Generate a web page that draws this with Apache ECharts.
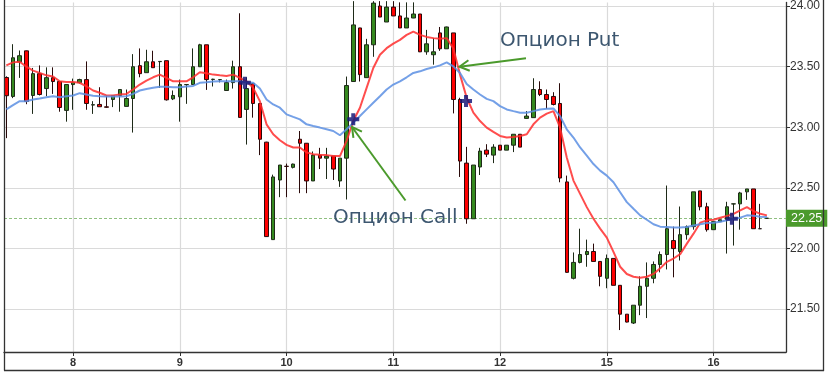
<!DOCTYPE html>
<html>
<head>
<meta charset="utf-8">
<script src="https://cdn.jsdelivr.net/npm/echarts@6/dist/echarts.min.js"></script>
<style>
html,body{margin:0;padding:0;background:#fff;}
#chart{width:828px;height:380px;}
</style>
</head>
<body>
<div id="chart"></div>
<script>
// ---- data (candle index along x) ----
const dayLabels = ['8','9','10','11','12','15','16'];
const dayTickIndex = [10,26,42,58,74,90,106];
const yTicks = [21.5,22.0,22.5,23.0,23.5,24.0];

const opens = [23.41,23.254,23.54,23.63,23.262,23.442,23.319,23.409,23.377,23.139,
23.352,23.368,23.393,23.183,23.188,23.168,23.229,23.262,23.172,23.237,
23.508,23.45,23.54,23.541,23.549,23.234,23.251,23.351,23.352,23.499,
23.68,23.394,23.392,23.303,23.368,23.499,23.147,23.36,23.196,22.877,
22.073,22.565,22.678,22.669,22.901,22.868,22.557,22.77,22.745,22.762,
22.557,22.745,23.377,23.819,23.409,23.68,24.0,23.868,23.991,23.918,
23.819,23.901,23.934,23.622,23.598,23.778,23.647,23.778,23.229,22.704,
22.245,22.672,22.811,22.77,22.852,22.811,22.852,22.942,23.073,23.079,
23.311,23.27,23.254,23.196,22.549,21.754,21.885,21.95,21.975,21.893,
21.754,21.918,21.696,21.458,21.385,21.532,21.688,21.754,21.868,21.95,
22.065,21.975,22.114,22.18,22.475,22.344,22.155,22.221,22.237,22.367,
22.368,22.467,22.491,22.163,22.248];
const closes = [23.26,23.573,23.59,23.213,23.442,23.27,23.409,23.377,23.163,23.352,
23.368,23.393,23.196,23.186,23.169,23.165,23.262,23.311,23.237,23.499,
23.442,23.54,23.491,23.543,23.226,23.262,23.352,23.352,23.499,23.68,
23.393,23.396,23.393,23.368,23.499,23.081,23.319,23.196,22.901,22.098,
22.59,22.688,22.677,22.696,22.868,22.557,22.77,22.745,22.762,22.655,
22.745,23.344,23.844,23.434,23.68,24.024,23.909,23.991,23.918,23.819,
23.901,23.934,23.622,23.688,23.622,23.647,23.827,23.229,22.721,22.245,
22.688,22.803,22.778,22.836,22.811,22.852,22.942,22.836,23.092,23.311,
23.27,23.229,23.188,22.581,21.803,21.885,21.95,21.975,21.893,21.77,
21.918,21.696,21.458,21.393,21.532,21.688,21.754,21.868,21.95,22.163,
21.999,22.114,22.18,22.467,22.344,22.155,22.221,22.237,22.344,22.368,
22.458,22.491,22.163,22.163,22.25];
const lows = [22.91,23.24,23.407,23.19,23.11,23.262,23.256,23.275,23.128,23.046,
23.144,23.36,23.144,23.11,23.169,23.16,23.166,23.128,23.172,22.956,
23.412,23.45,23.491,23.325,23.22,23.224,23.046,23.193,23.352,23.499,
23.308,23.336,23.37,23.303,23.319,23.08,22.857,23.079,22.77,22.095,
22.07,22.423,22.423,22.66,22.456,22.456,22.557,22.655,22.573,22.565,
22.508,22.404,23.377,23.377,23.409,23.581,23.909,23.868,23.918,23.819,
23.819,23.90,23.62,23.598,23.516,23.63,23.647,23.114,22.59,22.204,
22.245,22.606,22.754,22.704,22.811,22.811,22.795,22.836,23.07,23.079,
23.257,23.152,23.18,22.546,21.80,21.745,21.877,21.849,21.893,21.688,
21.672,21.696,21.327,21.39,21.377,21.45,21.426,21.713,21.803,21.827,
21.762,21.901,22.073,22.155,22.314,22.139,22.155,22.221,21.958,22.024,
22.155,22.401,22.163,22.16,22.245];
const highs = [23.42,23.685,23.633,23.632,23.489,23.51,23.494,23.494,23.38,23.352,
23.401,23.40,23.543,23.215,23.33,23.262,23.262,23.311,23.311,23.603,
23.65,23.639,23.631,23.545,23.549,23.303,23.393,23.355,23.65,23.688,
23.68,23.40,23.393,23.393,23.549,23.94,23.412,23.36,23.196,22.88,
22.609,22.688,22.70,22.70,22.969,22.87,22.80,22.83,22.83,22.762,
22.745,23.418,24.04,23.82,23.729,24.04,24.04,24.04,24.04,24.03,
24.03,24.03,23.934,23.803,23.737,23.827,23.83,23.778,23.243,22.838,
22.688,22.83,22.86,22.86,22.852,22.852,22.942,22.942,23.133,23.404,
23.379,23.311,23.289,23.363,22.601,21.967,22.163,22.073,22.04,21.893,
21.95,21.918,21.696,21.458,21.532,21.77,21.885,21.893,21.975,22.519,
22.18,22.346,22.19,22.467,22.475,22.377,22.221,22.237,22.385,22.37,
22.467,22.491,22.491,22.368,22.25];

const maFast = [23.51,23.535,23.54,23.50,23.467,23.448,23.428,23.418,23.379,23.374,
23.374,23.366,23.338,23.303,23.284,23.262,23.262,23.27,23.275,23.311,
23.352,23.385,23.412,23.434,23.407,23.379,23.379,23.379,23.412,23.453,
23.445,23.434,23.428,23.423,23.434,23.407,23.379,23.325,23.215,23.024,
22.942,22.893,22.855,22.833,22.833,22.792,22.778,22.773,22.77,22.762,
22.762,22.888,23.051,23.161,23.325,23.489,23.598,23.652,23.69,23.721,
23.762,23.789,23.762,23.745,23.735,23.729,23.735,23.65,23.434,23.243,
23.12,23.051,22.997,22.961,22.928,22.915,22.92,22.928,22.942,23.024,
23.079,23.112,23.133,22.997,22.751,22.56,22.45,22.341,22.245,22.164,
22.09,21.972,21.849,21.789,21.767,21.759,21.767,21.79,21.836,21.89,
21.917,21.953,22.04,22.122,22.213,22.232,22.237,22.254,22.267,22.286,
22.314,22.341,22.308,22.286,22.273];
const maSlow = [23.147,23.183,23.215,23.215,23.229,23.237,23.248,23.256,23.248,23.256,
23.262,23.281,23.27,23.259,23.256,23.254,23.254,23.254,23.256,23.275,
23.303,23.316,23.325,23.333,23.333,23.33,23.33,23.336,23.341,23.366,
23.371,23.377,23.379,23.379,23.379,23.379,23.368,23.366,23.319,23.229,
23.188,23.161,23.106,23.085,23.065,23.024,23.01,22.997,22.983,22.969,
22.934,22.983,23.038,23.092,23.147,23.202,23.256,23.311,23.352,23.379,
23.412,23.448,23.461,23.48,23.494,23.51,23.535,23.502,23.448,23.357,
23.311,23.27,23.234,23.215,23.174,23.147,23.133,23.12,23.12,23.133,
23.147,23.153,23.155,23.092,22.983,22.915,22.833,22.765,22.696,22.642,
22.601,22.546,22.464,22.382,22.327,22.273,22.237,22.2,22.18,22.177,
22.172,22.172,22.177,22.19,22.199,22.21,22.213,22.221,22.232,22.243,
22.254,22.273,22.27,22.262,22.259];

const signalPoints = [[35.75,23.366],[52.0,23.066],[68.9,23.216],[108.75,22.246]];
const callText = 'Опцион Call';
const putText = 'Опцион Put';

// ---- build ----
const candleData = opens.map((o,i)=>[i,o,closes[i],lows[i],highs[i]]);
const fastData = maFast.map((v,i)=>[i,v]);
const slowData = maSlow.map((v,i)=>[i,v]);
const lastClose = closes[closes.length-1];

const chart = echarts.init(document.getElementById('chart'), null, {renderer:'canvas'});
const fontAx = '"Liberation Sans", Arial, sans-serif';
const green = '#4b9a2c';

function arrow(x1,y1,x2,y2){
  const ang = Math.atan2(y2-y1, x2-x1);
  const L = 11, a = 0.5;
  const p1 = [x2 - L*Math.cos(ang-a), y2 - L*Math.sin(ang-a)];
  const p2 = [x2 - L*Math.cos(ang+a), y2 - L*Math.sin(ang+a)];
  return [
    {type:'line', shape:{x1,y1,x2,y2}, style:{stroke:green, lineWidth:2}, z:100},
    {type:'polyline', shape:{points:[p1,[x2,y2],p2]}, style:{stroke:green, lineWidth:2, fill:null}, z:100}
  ];
}

const option = {
  backgroundColor:'#fff',
  animation:false,
  grid:{left:4, right:42, top:0, bottom:28},
  xAxis:{
    type:'value', min:-0.35, max:116.86,
    axisLine:{show:true, onZero:false, lineStyle:{color:'#333', width:1.3}},
    axisTick:{show:true, customValues:dayTickIndex, length:4, lineStyle:{color:'#333'}},
    axisLabel:{customValues:dayTickIndex, formatter:v=>{const k=dayTickIndex.indexOf(Math.round(v));return k>=0?dayLabels[k]:'';},
      fontFamily:fontAx, fontSize:11, fontWeight:'bold', color:'#333', margin:5},
    splitLine:{show:true, lineStyle:{color:'#dadada', width:1.2}}
  },
  yAxis:{
    type:'value', position:'right', min:21.146, max:24.029,
    axisLine:{show:true, onZero:false, lineStyle:{color:'#333', width:1.3}},
    axisTick:{show:true, customValues:yTicks, length:4, lineStyle:{color:'#333'}},
    axisLabel:{customValues:yTicks, formatter:v=>v.toFixed(2), fontFamily:fontAx, fontSize:12, color:'#333', margin:4},
    splitLine:{show:true, lineStyle:{color:'#dadada', width:1.2}}
  },
  series:[
    {
      type:'candlestick', name:'price',
      dimensions:['idx','open','close','lowest','highest'],
      encode:{x:'idx', y:['open','close','lowest','highest']},
      data:candleData, barWidth:4,
      itemStyle:{color:'#35891f', color0:'#ff0000', borderColor:'#1e2a18', borderColor0:'#2a0a0a', borderColorDoji:'#2a2020', borderWidth:1},
      markLine:{
        silent:true, symbol:['none','none'], z:1,
        data:[{yAxis:lastClose}],
        lineStyle:{color:'#8fbf80', type:[3,2], width:1},
        label:{position:'end', distance:0, formatter:p=>Number(p.value).toFixed(2), color:'#fff', backgroundColor:green,
          fontFamily:fontAx, fontSize:12.5, padding:[2,5,2,5]}
      },
      z:2
    },
    {
      type:'line', name:'fast', data:fastData, showSymbol:false, smooth:false,
      lineStyle:{color:'#ff2e2e', width:2, opacity:0.85}, z:3
    },
    {
      type:'line', name:'slow', data:slowData, showSymbol:false, smooth:false,
      lineStyle:{color:'#5c8fe3', width:2, opacity:0.85}, z:3
    },
    {
      type:'scatter', name:'signals', data:signalPoints,
      symbol:'path://M4,0H8V4H12V8H8V12H4V8H0V4H4Z', symbolSize:12,
      itemStyle:{color:'#1a1a78', opacity:0.85}, z:4
    }
  ],
  graphic:[]
};
chart.setOption(option);

const g = [
  {type:'line', shape:{x1:4.5,y1:0,x2:4.5,y2:370.5}, style:{stroke:'#333', lineWidth:1.3}, z:100},
  {type:'line', shape:{x1:4,y1:370.5,x2:824,y2:370.5}, style:{stroke:'#333', lineWidth:1.3}, z:100},
  {type:'line', shape:{x1:823.5,y1:0,x2:823.5,y2:371}, style:{stroke:'#333', lineWidth:1.3}, z:100},
  {type:'text', x:333, y:228, style:{text:callText, fill:'#3d5770', font:'20px "DejaVu Sans", sans-serif', textVerticalAlign:'bottom'}, z:100},
  {type:'text', x:500, y:51, style:{text:putText, fill:'#3d5770', font:'20px "DejaVu Sans", sans-serif', textVerticalAlign:'bottom'}, z:100}
].concat(arrow(405.5,200.5,352,127)).concat(arrow(526,58.3,459.5,66.7));
chart.setOption({graphic:g});
</script>
</body>
</html>
